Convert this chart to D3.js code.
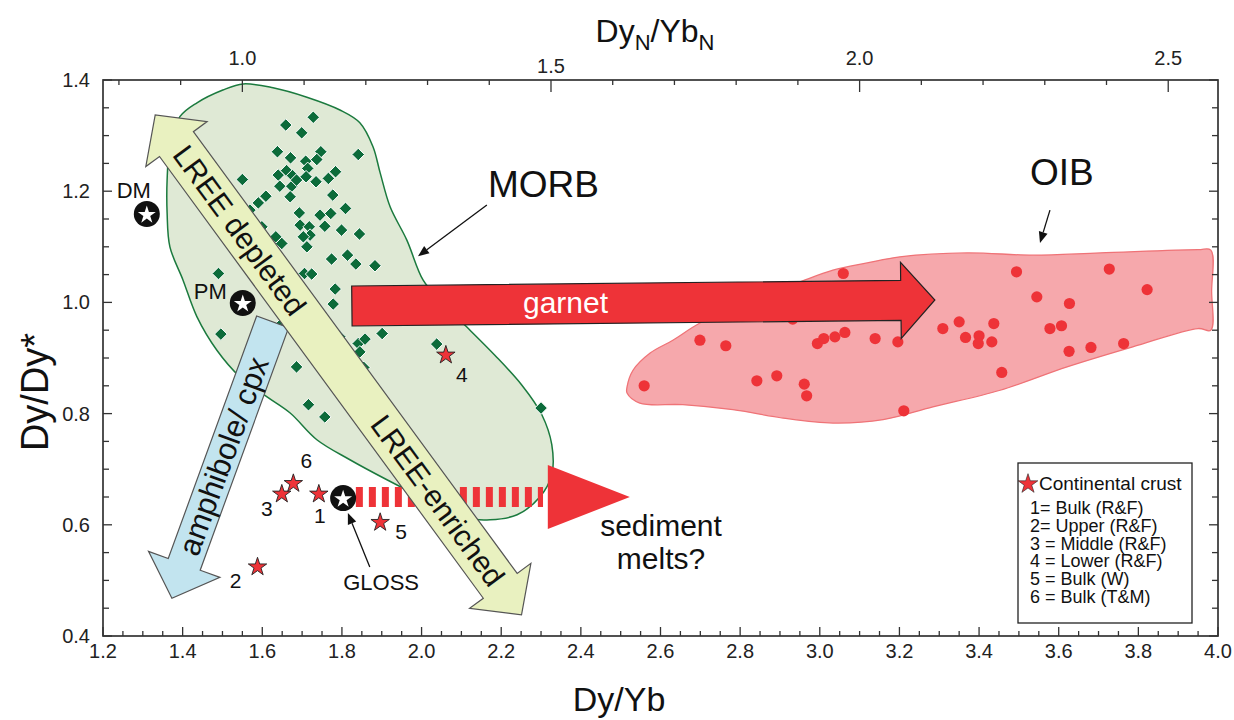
<!DOCTYPE html>
<html><head><meta charset="utf-8">
<script src="https://cdn.jsdelivr.net/npm/d3@7"></script>
<style>
body{margin:0;background:#fff;}
svg{display:block;font-family:"Liberation Sans",Arial,Helvetica,sans-serif;}
</style></head><body>
<svg id="c" width="1234" height="720"></svg>
<script>
// ---------------- DATA ----------------
// MORB samples (Dy/Yb, Dy/Dy*)
const morbX = [1.728,1.659,1.699,1.638,1.747,1.841,1.671,1.737,1.709,1.714,1.784,1.640,1.661,1.676,1.710,1.735,1.766,1.550,1.644,1.674,1.686,1.670,1.777,1.609,1.590,1.809,1.693,1.745,1.772,1.695,1.757,1.718,1.799,1.844,1.720,1.703,1.634,1.649,1.712,1.599,1.774,1.814,1.835,1.883,1.490,1.706,1.724,1.569,1.783,1.778,1.649,1.496,1.604,1.795,1.841,1.858,1.845,1.901,1.686,1.855,2.038,1.716,1.757,2.300];
const morbY = [1.333,1.319,1.305,1.271,1.271,1.266,1.260,1.257,1.254,1.241,1.235,1.229,1.237,1.228,1.226,1.217,1.223,1.221,1.209,1.209,1.220,1.190,1.193,1.191,1.179,1.169,1.161,1.157,1.160,1.139,1.137,1.136,1.130,1.123,1.121,1.118,1.118,1.106,1.100,1.136,1.078,1.085,1.069,1.066,1.052,1.052,1.051,1.166,1.024,0.997,0.962,0.943,0.932,0.938,0.926,0.934,0.911,0.944,0.884,0.883,0.925,0.816,0.794,0.810];
// OIB samples
const oibX = [3.059,2.932,2.699,2.764,2.994,3.010,3.038,3.063,3.139,3.196,2.559,2.842,2.892,2.961,2.967,3.494,3.727,3.822,3.545,3.627,3.309,3.350,3.437,3.366,3.400,3.398,3.432,3.578,3.607,3.626,3.681,3.763,3.457,3.211];
const oibY = [1.052,0.970,0.932,0.922,0.926,0.935,0.938,0.946,0.935,0.929,0.850,0.859,0.868,0.853,0.832,1.055,1.060,1.023,1.010,0.998,0.953,0.965,0.962,0.937,0.940,0.926,0.929,0.953,0.958,0.912,0.919,0.926,0.874,0.805];
// Continental crust estimates
const crustIds = ["1","2","3","4","5","6"];
const crustX = [1.742,1.588,1.649,2.061,1.896,1.678];
const crustY = [0.657,0.526,0.657,0.907,0.606,0.676];
// Reference reservoirs
const refNames = ["DM","PM","GLOSS"];
const refX = [1.310,1.551,1.803];
const refY = [1.159,0.999,0.648];
// Fields (outline vertices, data units)
const morbFieldX = [1.552,1.627,1.712,1.795,1.845,1.878,1.896,1.921,1.963,2.004,2.046,2.109,2.184,2.252,2.302,2.327,2.327,2.297,2.240,2.172,2.114,2.029,1.913,1.820,1.737,1.670,1.612,1.544,1.486,1.436,1.401,1.368,1.361,1.361,1.368,1.393,1.436,1.501];
const morbFieldY = [1.393,1.386,1.369,1.346,1.323,1.280,1.233,1.172,1.112,1.040,1.004,0.959,0.905,0.851,0.798,0.744,0.690,0.650,0.618,0.609,0.612,0.639,0.681,0.717,0.753,0.801,0.830,0.866,0.914,0.974,1.040,1.100,1.161,1.220,1.280,1.334,1.359,1.382];
const oibFieldX = [2.516,2.531,2.574,2.631,2.699,2.825,2.943,3.033,3.119,3.201,3.370,3.535,3.704,3.950,3.982,3.984,3.982,3.950,3.786,3.621,3.453,3.284,3.159,3.033,2.908,2.782,2.656,2.548,2.516];
const oibFieldY = [0.848,0.878,0.909,0.932,0.963,1.004,1.035,1.058,1.071,1.082,1.089,1.085,1.089,1.095,1.094,1.020,0.950,0.953,0.920,0.884,0.842,0.812,0.789,0.783,0.792,0.807,0.816,0.819,0.837];
// Process vectors (data units: [x0,y0,x1,y1])
const lreeArrow = [1.331,1.337,2.251,0.438];
const amphArrow = [1.626,0.965,1.373,0.468];
const garnetArrow = [1.825,0.9935,3.289,1.0043];
const sedimentLine = [1.835,0.650,2.305,0.650];
const sedimentHead = [2.317,2.523,0.650];
const morbPointer = [2.164,1.175,1.991,1.083];
const oibPointer = [3.578,1.166,3.553,1.107];
const glossPointer = [1.870,0.524,1.815,0.621];
// Axis ticks
const bottomMajor = d3.range(6,21).map(i=>i/5);
const bottomMinor = d3.range(24,81).map(i=>i/20);
const leftMajor = [0.4,0.6,0.8,1.0,1.2,1.4];
const leftMinor = d3.range(8,29).map(i=>i/20);
const topMajor = [1.0,1.5,2.0,2.5];
const topMinor = d3.range(8,26).map(i=>i/10);
const DY_YB_CHONDRITE = 1.55;
const legendTitle = "Continental crust";
const legendLines = ["1= Bulk (R&F)","2= Upper (R&F)","3 = Middle (R&F)","4 = Lower (R&F)","5 = Bulk (W)","6 = Bulk (T&M)"];

// ---------------- SCALES ----------------
const svg = d3.select("#c");
const x = d3.scaleLinear().domain([1.2,4.0]).range([103,1218]);
const y = d3.scaleLinear().domain([0.4,1.4]).range([636,80]);
const xTop = d3.scaleLinear().domain([1.2/DY_YB_CHONDRITE,4.0/DY_YB_CHONDRITE]).range([103,1218]);

const RED = "#ee3338";
const line = d3.line().curve(d3.curveCatmullRomClosed.alpha(0.5));

// fields
svg.append("path")
  .attr("d", line(morbFieldX.map((v,i)=>[x(v),y(morbFieldY[i])])))
  .attr("fill","#dfe9d5").attr("stroke","#1b7a3e").attr("stroke-width",1.5);
svg.append("path")
  .attr("d", line(oibFieldX.map((v,i)=>[x(v),y(oibFieldY[i])])))
  .attr("fill","#f6a8ac").attr("stroke","#ef7377").attr("stroke-width",1.3);

// MORB diamonds
svg.append("g").selectAll("path").data(morbX.map((v,i)=>[v,morbY[i]])).join("path")
  .attr("transform",d=>`translate(${x(d[0])},${y(d[1])})`)
  .attr("d","M0,-6.3L6.3,0L0,6.3L-6.3,0Z")
  .attr("fill","#0c6b3a").attr("stroke","#fff").attr("stroke-width",1);

// OIB circles
svg.append("g").selectAll("circle").data(oibX.map((v,i)=>[v,oibY[i]])).join("circle")
  .attr("cx",d=>x(d[0])).attr("cy",d=>y(d[1])).attr("r",5.6).attr("fill",RED);

// arrow polygon helper
function arrowPts(p0,p1,w,hl,hw,dbl){
  const dx=p1[0]-p0[0], dy=p1[1]-p0[1], L=Math.hypot(dx,dy);
  const u=[dx/L,dy/L], n=[-u[1],u[0]];
  const P=(p,s,t)=>[p[0]+u[0]*s+n[0]*t, p[1]+u[1]*s+n[1]*t];
  if(!dbl){
    return [P(p0,0,w),P(p1,-hl,w),P(p1,-hl,hw),p1,P(p1,-hl,-hw),P(p1,-hl,-w),P(p0,0,-w)];
  }
  return [p0,P(p0,hl,hw),P(p0,hl,w),P(p1,-hl,w),P(p1,-hl,hw),p1,P(p1,-hl,-hw),P(p1,-hl,-w),P(p0,hl,-w),P(p0,hl,-hw)];
}
const poly = pts => "M"+pts.map(p=>p.join(",")).join("L")+"Z";
const px = a => [[x(a[0]),y(a[1])],[x(a[2]),y(a[3])]];

// sediment melts dashed arrow
{
  const [a,b] = px(sedimentLine);
  svg.append("line").attr("x1",a[0]).attr("y1",a[1]).attr("x2",b[0]).attr("y2",b[1])
    .attr("stroke",RED).attr("stroke-width",20).attr("stroke-dasharray","7,6");
  const bx=x(sedimentHead[0]), tx=x(sedimentHead[1]), cy=y(sedimentHead[2]);
  svg.append("path").attr("d",poly([[bx,cy-32],[tx,cy],[bx,cy+32]])).attr("fill",RED);
  svg.append("text").attr("x",661).attr("y",536).attr("text-anchor","middle")
    .attr("font-size",30).attr("fill","#111").text("sediment");
  svg.append("text").attr("x",661).attr("y",569).attr("text-anchor","middle")
    .attr("font-size",30).attr("fill","#111").text("melts?");
}

// amphibole / cpx arrow
{
  const [a,b] = px(amphArrow);
  svg.append("path").attr("d",poly(arrowPts(a,b,17,36,38,false)))
    .attr("fill","#c2e4ef").attr("stroke","#555").attr("stroke-width",1.2);
  const L=Math.hypot(b[0]-a[0],b[1]-a[1]), u=[(b[0]-a[0])/L,(b[1]-a[1])/L];
  const s=143, c=[a[0]+u[0]*s,a[1]+u[1]*s];
  const ang=Math.atan2(-u[1],-u[0])*180/Math.PI;
  svg.append("text").attr("transform",`translate(${c[0]},${c[1]}) rotate(${ang})`)
    .attr("text-anchor","middle").attr("dominant-baseline","central")
    .attr("font-size",31).attr("fill","#111").text("amphibole/ cpx");
}

// LREE double arrow
{
  const [a,b] = px(lreeArrow);
  svg.append("path").attr("d",poly(arrowPts(a,b,21,36,38,true)))
    .attr("fill","#e9f1c0").attr("stroke","#555").attr("stroke-width",1.2);
  const L=Math.hypot(b[0]-a[0],b[1]-a[1]), u=[(b[0]-a[0])/L,(b[1]-a[1])/L];
  const ang=Math.atan2(u[1],u[0])*180/Math.PI;
  const c1=[a[0]+u[0]*42,a[1]+u[1]*42], c2=[a[0]+u[0]*(L-40),a[1]+u[1]*(L-40)];
  svg.append("text").attr("transform",`translate(${c1[0]},${c1[1]}) rotate(${ang})`)
    .attr("text-anchor","start").attr("dominant-baseline","central")
    .attr("font-size",30).attr("fill","#111").text("LREE depleted");
  svg.append("text").attr("transform",`translate(${c2[0]},${c2[1]}) rotate(${ang})`)
    .attr("text-anchor","end").attr("dominant-baseline","central")
    .attr("font-size",30).attr("fill","#111").text("LREE-enriched");
}

// garnet arrow
{
  const [a,b] = px(garnetArrow);
  svg.append("path").attr("d",poly(arrowPts(a,b,20,34,38,false)))
    .attr("fill",RED).attr("stroke","#222").attr("stroke-width",1.2);
  svg.append("text").attr("x",523).attr("y",313).attr("font-size",30).attr("fill","#fff").text("garnet");
}

// pointer arrows
function pointer(arr){
  const [a,b]=px(arr);
  const L=Math.hypot(b[0]-a[0],b[1]-a[1]), u=[(b[0]-a[0])/L,(b[1]-a[1])/L], n=[-u[1],u[0]];
  const hl=11, hw=4.5, base=[b[0]-u[0]*hl,b[1]-u[1]*hl];
  svg.append("line").attr("x1",a[0]).attr("y1",a[1]).attr("x2",base[0]).attr("y2",base[1])
    .attr("stroke","#111").attr("stroke-width",1.3);
  svg.append("path").attr("d",poly([b,[base[0]+n[0]*hw,base[1]+n[1]*hw],[base[0]-n[0]*hw,base[1]-n[1]*hw]]))
    .attr("fill","#111");
}
pointer(morbPointer); pointer(oibPointer); pointer(glossPointer);

// field labels
svg.append("text").attr("x",488).attr("y",197).attr("font-size",37).attr("fill","#111").text("MORB");
svg.append("text").attr("x",1030).attr("y",185).attr("font-size",37).attr("fill","#111").text("OIB");

// crust stars
const starPath = d3.symbol(d3.symbolStar, 105)();
const crustLabelOffsets = {"1":[1,30],"2":[-22,22],"3":[-15,23],"4":[16,28],"5":[21,18],"6":[13,-15]};
crustIds.forEach((id,i)=>{
  const cx=x(crustX[i]), cy=y(crustY[i]);
  svg.append("path").attr("d",starPath).attr("transform",`translate(${cx},${cy+1})`)
    .attr("fill",RED).attr("stroke","#222").attr("stroke-width",0.9);
  const o=crustLabelOffsets[id];
  svg.append("text").attr("x",cx+o[0]).attr("y",cy+o[1]).attr("text-anchor","middle")
    .attr("font-size",21).attr("fill","#111").text(id);
});

// reference reservoirs
const refLabel = {
  DM:{dx:-13,dy:-16,anchor:"middle"},
  PM:{dx:-16,dy:-4,anchor:"end"},
  GLOSS:{dx:38,dy:92,anchor:"middle"}
};
const whiteStar = d3.symbol(d3.symbolStar, 100)();
refNames.forEach((nm,i)=>{
  const cx=x(refX[i]), cy=y(refY[i]);
  svg.append("circle").attr("cx",cx).attr("cy",cy).attr("r",13).attr("fill","#111");
  svg.append("path").attr("d",whiteStar).attr("transform",`translate(${cx},${cy+1})`).attr("fill","#fff");
  const o=refLabel[nm];
  svg.append("text").attr("x",cx+o.dx).attr("y",cy+o.dy).attr("text-anchor",o.anchor)
    .attr("font-size",22).attr("fill","#111").text(nm);
});

// ---------------- AXES ----------------
const gA = svg.append("g").attr("stroke","#333").attr("stroke-width",1.3);
const x0=x.range()[0], x1=x.range()[1], y0=y.range()[0], y1=y.range()[1];
gA.append("rect").attr("x",x0).attr("y",y1).attr("width",x1-x0).attr("height",y0-y1)
  .attr("fill","none").attr("stroke-width",1.7);
bottomMinor.forEach(v=>{
  const maj = bottomMajor.some(m=>Math.abs(m-v)<1e-6);
  gA.append("line").attr("x1",x(v)).attr("x2",x(v)).attr("y1",y0).attr("y2",y0-(maj?9:5));
});
leftMinor.forEach(v=>{
  const maj = leftMajor.some(m=>Math.abs(m-v)<1e-6);
  gA.append("line").attr("y1",y(v)).attr("y2",y(v)).attr("x1",x0).attr("x2",x0+(maj?9:6));
  gA.append("line").attr("y1",y(v)).attr("y2",y(v)).attr("x1",x1).attr("x2",x1-(maj?9:6));
});
topMinor.forEach(v=>{
  const maj = topMajor.some(m=>Math.abs(m-v)<1e-6);
  gA.append("line").attr("x1",xTop(v)).attr("x2",xTop(v)).attr("y1",y1).attr("y2",y1+(maj?12:5));
});
const fmt = d3.format(".1f");
svg.append("g").selectAll("text").data(bottomMajor).join("text")
  .attr("x",d=>x(d)).attr("y",y0+22).attr("text-anchor","middle").attr("font-size",20).attr("fill","#222").text(fmt);
svg.append("g").selectAll("text").data(leftMajor).join("text")
  .attr("x",x0-13).attr("y",d=>y(d)+7).attr("text-anchor","end").attr("font-size",20).attr("fill","#222").text(fmt);
svg.append("g").selectAll("text").data(topMajor).join("text")
  .attr("x",d=>xTop(d)).attr("y",d=>d===1.5?73:65).attr("text-anchor","middle").attr("font-size",20).attr("fill","#222").text(fmt);

// axis titles
svg.append("text").attr("x",619).attr("y",711).attr("text-anchor","middle").attr("font-size",34).attr("fill","#111").text("Dy/Yb");
svg.append("text").attr("transform","translate(48,392) rotate(-90)").attr("text-anchor","middle")
  .attr("font-size",38).attr("fill","#111").text("Dy/Dy*");
{
  const t = svg.append("text").attr("x",655).attr("y",42).attr("text-anchor","middle").attr("font-size",32).attr("fill","#111");
  t.append("tspan").text("Dy");
  t.append("tspan").attr("font-size",22).attr("dy",8).text("N");
  t.append("tspan").attr("dy",-8).text("/Yb");
  t.append("tspan").attr("font-size",22).attr("dy",8).text("N");
}

// ---------------- LEGEND ----------------
{
  const g = svg.append("g");
  g.append("rect").attr("x",1018).attr("y",463).attr("width",174).attr("height",160)
    .attr("fill","#fff").attr("stroke","#222").attr("stroke-width",1.3);
  g.append("path").attr("d",d3.symbol(d3.symbolStar,120)()).attr("transform","translate(1028,484)")
    .attr("fill",RED).attr("stroke","#222").attr("stroke-width",0.6);
  g.append("text").attr("x",1039).attr("y",490).attr("font-size",19).attr("fill","#111").text(legendTitle);
  g.selectAll("text.l").data(legendLines).join("text").attr("class","l")
    .attr("x",1030).attr("y",(d,i)=>514+i*17.8).attr("font-size",18).attr("fill","#111").text(d=>d);
}
</script>
</body></html>
